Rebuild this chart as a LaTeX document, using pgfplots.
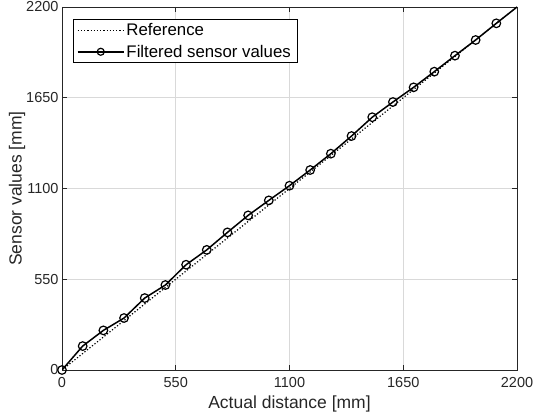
\documentclass[border=0pt]{standalone}
\usepackage{pgfplots}
\pgfplotsset{compat=1.18}
\usepackage{fontspec}
\setmainfont{Liberation Sans}
\pgfplotsset{
  refleg/.style={legend image code/.code={\draw[##1] (0pt,0pt) -- (46pt,0pt);}},
  sensleg/.style={legend image code/.code={\draw[##1, mark=none] (0pt,0pt) -- (46pt,0pt);
    \draw[black, line width=1.2pt] (23pt,0pt) circle (3.5pt);}},
}
\begin{document}
\begin{tikzpicture}
\begin{axis}[name=ax, at={(0,0)}, anchor=south west,
  width=455pt, height=363pt, scale only axis,
  xmin=0, xmax=2200, ymin=0, ymax=2200,
  xtick={0,550,1100,1650,2200}, ytick={0,550,1100,1650,2200},
  tick align=inside, tick pos=both, major tick length=5pt,
  grid=major, grid style={gray!30, line width=0.6pt},
  axis line style={black!85, line width=0.6pt},
  tick style={black!85, line width=0.6pt},
  ticklabel style={font=\fontsize{14.5}{16}\selectfont, text=black!85},
  xticklabel style={yshift=-4pt},
  /pgf/number format/assume math mode=true,
  /pgf/number format/set thousands separator={},
  xlabel={Actual distance [mm]}, ylabel={Sensor values [mm]},
  label style={font=\fontsize{17.5}{19}\selectfont, text=black!85},
  xlabel style={yshift=-1pt}, ylabel style={yshift=-6pt},
  legend style={at={(0.0235,0.967)}, anchor=north west, draw=black, line width=0.6pt,
    font=\fontsize{16.8}{18}\selectfont, row sep=4pt, inner xsep=4pt, inner ysep=2pt},
  legend cell align=left]
\addplot[black, dotted, line width=1.2pt, refleg] coordinates {(0,0) (2200,2200)};
\addlegendentry{Reference}
\addplot[black, line width=1.5pt, mark=o, mark size=4.3pt, mark options={solid, line width=1.2pt},
  mark indices={1,...,22}, sensleg] coordinates {
  (0,0) (100,145) (200,240) (300,315) (400,436) (500,515) (600,638) (700,728)
  (800,834) (900,937) (1000,1028) (1100,1117) (1200,1212) (1300,1311) (1400,1418)
  (1500,1532) (1600,1624) (1700,1713) (1800,1808) (1900,1905) (2000,2000) (2100,2101)
  (2200,2200)};
\addlegendentry{Filtered sensor values}
\end{axis}
\pgfresetboundingbox
\path[use as bounding box] (-62pt,-49pt) rectangle (475pt,370pt);
\end{tikzpicture}
\end{document}
